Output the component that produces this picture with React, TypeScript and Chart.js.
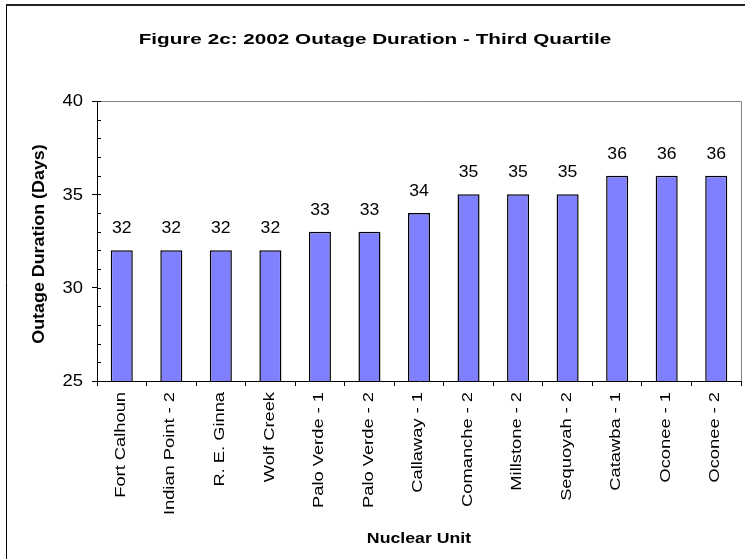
import React, { useEffect, useRef } from "react";
import { Chart, registerables } from "chart.js";

Chart.register(...registerables);

const chartTitle = "Figure 2c: 2002 Outage Duration - Third Quartile";
const xAxisTitle = "Nuclear Unit";
const yAxisTitle = "Outage Duration (Days)";

const units = [
  "Fort Calhoun",
  "Indian Point - 2",
  "R. E. Ginna",
  "Wolf Creek",
  "Palo Verde - 1",
  "Palo Verde - 2",
  "Callaway - 1",
  "Comanche - 2",
  "Millstone - 2",
  "Sequoyah - 2",
  "Catawba - 1",
  "Oconee - 1",
  "Oconee - 2",
];
const durations = [32, 32, 32, 32, 33, 33, 34, 35, 35, 35, 36, 36, 36];
const yTickValues = [25, 30, 35, 40];
const yMin = 25;
const yMax = 40;
const yMinorStep = 1;

const FONT = '"Liberation Sans", Arial, sans-serif';

function drawText(
  ctx: CanvasRenderingContext2D,
  text: string,
  x: number,
  y: number,
  font: string,
  sx: number,
  rot: number,
  align: CanvasTextAlign,
  baseline: CanvasTextBaseline
) {
  ctx.save();
  ctx.translate(x, y);
  ctx.rotate(rot);
  ctx.scale(sx, 1);
  ctx.font = font;
  ctx.textAlign = align;
  ctx.textBaseline = baseline;
  ctx.fillStyle = "#000";
  ctx.fillText(text, 0, 0);
  ctx.restore();
}

const decorPlugin = {
  id: "decor",
  afterDraw(chart: any) {
    const ctx = chart.ctx as CanvasRenderingContext2D;
    const area = chart.chartArea;
    const xs = chart.scales.x;
    const ys = chart.scales.y;
    ctx.save();
    // outer frame
    ctx.strokeStyle = "#222";
    ctx.lineWidth = 2;
    ctx.beginPath();
    ctx.moveTo(6, 5);
    ctx.lineTo(760, 5);
    ctx.stroke();
    ctx.lineWidth = 1;
    ctx.strokeStyle = "#000";
    ctx.beginPath();
    ctx.moveTo(6.5, 5);
    ctx.lineTo(6.5, 570);
    ctx.stroke();
    // plot frame top/right (gray)
    ctx.strokeStyle = "#808080";
    ctx.beginPath();
    ctx.moveTo(Math.round(area.left), Math.round(area.top) + 0.5);
    ctx.lineTo(Math.round(area.right) + 0.5, Math.round(area.top) + 0.5);
    ctx.lineTo(Math.round(area.right) + 0.5, Math.round(area.bottom));
    ctx.stroke();
    // minor ticks inside
    ctx.strokeStyle = "#000";
    ctx.beginPath();
    for (let v = yMin; v <= yMax; v += yMinorStep) {
      const py = Math.round(ys.getPixelForValue(v)) + 0.5;
      ctx.moveTo(Math.round(area.left), py);
      ctx.lineTo(Math.round(area.left) + 4, py);
    }
    ctx.stroke();
    ctx.restore();

    // title
    drawText(ctx, chartTitle, 375, 44, `bold 15px ${FONT}`, 1.38, 0, "center", "alphabetic");
    // y tick labels
    yTickValues.forEach((v) => {
      drawText(ctx, String(v), 83, ys.getPixelForValue(v) + 1, `16px ${FONT}`, 1.15, 0, "right", "middle");
    });
    // x tick labels
    units.forEach((u, i) => {
      drawText(ctx, u, xs.getPixelForValue(i) - 1, area.bottom + 11, `15px ${FONT}`, 1.22, -Math.PI / 2, "right", "middle");
    });
    // axis titles
    drawText(ctx, xAxisTitle, (area.left + area.right) / 2, 543, `bold 15px ${FONT}`, 1.18, 0, "center", "alphabetic");
    drawText(ctx, yAxisTitle, 43.5, (area.top + area.bottom) / 2 + 3, `bold 17px ${FONT}`, 1.05, -Math.PI / 2, "center", "alphabetic");
    // data labels
    const meta = chart.getDatasetMeta(0);
    meta.data.forEach((bar: any, i: number) => {
      drawText(ctx, String(durations[i]), bar.x, bar.y - 17, `16px ${FONT}`, 1.1, 0, "center", "alphabetic");
    });
  },
};

export default function App() {
  const ref = useRef<HTMLCanvasElement | null>(null);
  useEffect(() => {
    document.body.style.margin = "0";
    document.body.style.overflow = "hidden";
    const canvas = ref.current!;
    const chart = new Chart(canvas, {
      type: "bar",
      data: {
        labels: units,
        datasets: [
          {
            data: durations,
            backgroundColor: "#8080FF",
            borderColor: "#000",
            borderWidth: 1.5,
            categoryPercentage: 1,
            barPercentage: 0.445,
          },
        ],
      },
      options: {
        animation: false,
        responsive: false,
        devicePixelRatio: 1,
        layout: { padding: { top: 101, right: 4, bottom: 0, left: 0 } },
        plugins: {
          legend: { display: false },
          title: { display: false },
          tooltip: { enabled: false },
        },
        scales: {
          x: {
            type: "category",
            offset: true,
            grid: {
              offset: true,
              drawOnChartArea: false,
              drawTicks: true,
              tickLength: 5,
              color: "#000",
            },
            border: { display: true, color: "#000", width: 1 },
            ticks: { display: false },
            afterFit: (s: any) => {
              s.height = 178;
            },
          },
          y: {
            min: yMin,
            max: yMax,
            ticks: { display: false, stepSize: 5 },
            grid: {
              drawOnChartArea: false,
              drawTicks: true,
              tickLength: 5,
              color: "#000",
            },
            border: { display: true, color: "#000", width: 1 },
            afterFit: (s: any) => {
              s.width = 97;
            },
          },
        },
      },
      plugins: [decorPlugin],
    });
    return () => chart.destroy();
  }, []);
  return (
    <div style={{ width: 745, height: 559, background: "#fff" }}>
      <canvas ref={ref} width={745} height={559} style={{ display: "block", width: 745, height: 559 }} />
    </div>
  );
}
